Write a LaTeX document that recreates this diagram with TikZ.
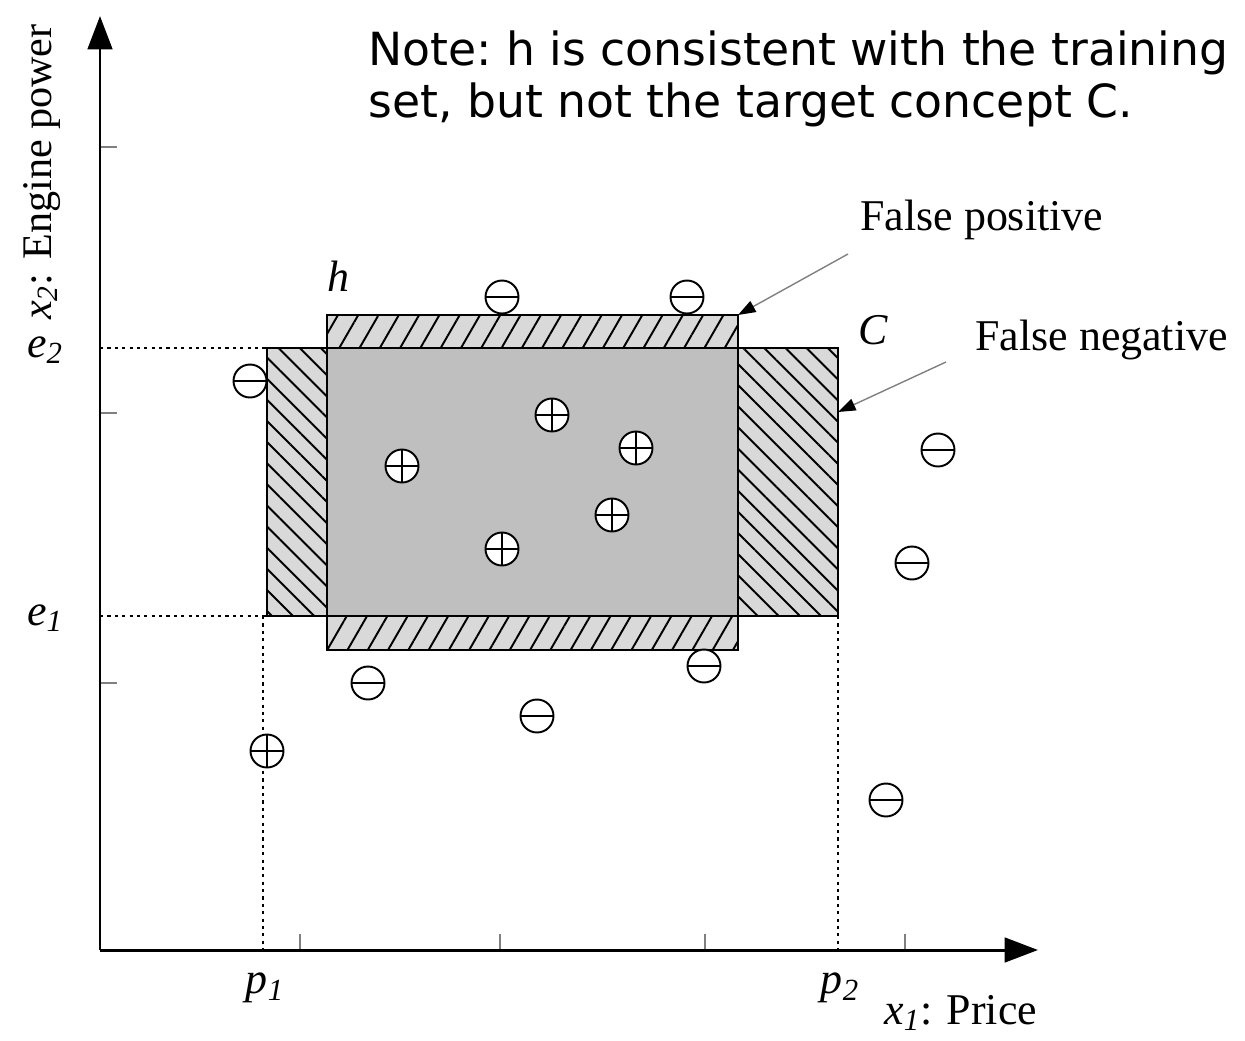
\documentclass[tikz,border=0pt]{standalone}
\usepackage{fontspec}
\setmainfont{Liberation Serif}
\newfontfamily\notefont{DejaVu Sans}
\usetikzlibrary{arrows.meta, patterns.meta, positioning}
\newcommand{\isub}[2]{\textit{#1}\textsubscript{\textit{#2}}}
\tikzset{
    axis/.style = {line width=1.7pt, -{Triangle[length=19pt, width=14pt]}},
    tickmark/.style = {gray, line width=0.6pt},
    guide/.style = {line width=1.6pt, dash pattern=on 1.8pt off 2.4pt},
    hstrip/.style = {fill=black!15, postaction={pattern={Lines[angle=60, distance=10pt, line width=1.1pt]}}},
    cstrip/.style = {fill=black!15, postaction={pattern={Lines[angle=-45, distance=8.5pt, line width=1.1pt]}}},
    core/.style = {fill=black!25},
    outline/.style = {draw=black, line width=1.1pt},
    lbl/.style = {font=\fontsize{25}{30}\selectfont, inner sep=0pt},
    callout/.style = {gray, line width=0.8pt, -{Triangle[length=10pt, width=7pt, color=black]}},
    plusmark/.style = {circle, draw, fill=white, line width=1.1pt, minimum size=0.66cm, inner sep=0pt,
        path picture={\draw[line width=1.1pt] (path picture bounding box.west) -- (path picture bounding box.east)
                      (path picture bounding box.north) -- (path picture bounding box.south);}},
    minusmark/.style = {circle, draw, fill=white, line width=1.1pt, minimum size=0.66cm, inner sep=0pt,
        path picture={\draw[line width=1.1pt] (path picture bounding box.west) -- (path picture bounding box.east);}}
}
\begin{document}
\begin{tikzpicture}[x=0.02cm, y=-0.02cm]
\useasboundingbox (0,0) rectangle (1245,1041);

% --- COORDINATES ---
\coordinate (origin) at (100,950);
\coordinate (hNE) at (738,315);
\coordinate (cE) at (838,412);
\coordinate (fpfoot) at (848,254);
\coordinate (fnfoot) at (946,362);

% --- REGIONS ---
\path[cstrip] (267,348) rectangle (327,616);
\path[cstrip] (738,348) rectangle (838,616);
\path[hstrip] (327,315) rectangle (738,348);
\path[hstrip] (327,616) rectangle (738,650);
\path[core] (327,348) rectangle (738,616);
\draw[outline] (267,348) rectangle (838,616);
\draw[outline] (327,315) rectangle (738,650);

% --- GUIDES ---
\draw[guide] (100,348) -- (267,348);
\draw[guide] (100,616) -- (267,616);
\draw[guide] (263,616) -- (263,950);
\draw[guide] (838,616) -- (838,950);

% --- AXES ---
\foreach \ty in {147,413,683} \draw[tickmark] (100,\ty) -- (117,\ty);
\foreach \tx in {300,500,705,905} \draw[tickmark] (\tx,950) -- (\tx,934);
\draw[axis] (origin) -- (100,16);
\draw[axis] (origin) -- (1038,950);

% --- AXIS LABELS ---
\node[lbl, rotate=90, font=\fontsize{24}{28}\selectfont] (ylab) at (42,172) {\isub{x}{2}: Engine power};
\node[lbl] (e2) at (45,350) {\isub{e}{2}};
\node[lbl] (e1) at (45,618) {\isub{e}{1}};
\node[lbl] (p1) at (265,988) {\isub{p}{1}};
\node[lbl] (p2) at (840,988) {\isub{p}{2}};
\node[lbl, anchor=west] (xlab) at (884,1013) {\isub{x}{1}: Price};

% --- SAMPLES ---
\foreach \px/\py [count=\i] in {552/415, 636/448, 402/466, 612/515, 502/549, 267/751}
    \node[plusmark] (plus\i) at (\px,\py) {};
\foreach \px/\py [count=\i] in {502/297, 687/297, 250/381, 938/450, 912/563, 368/683, 704/666, 537/716, 886/800}
    \node[minusmark] (minus\i) at (\px,\py) {};

% --- NAMES AND CALLOUTS ---
\node[lbl] (hname) at (338,276) {\textit{h}};
\node[lbl] (cname) at (873,330) {\textit{C}};
\node[lbl, anchor=west] (falsepos) at (860,220) {False positive};
\node[lbl, anchor=west] (falseneg) at (975,340) {False negative};
\draw[callout] (fpfoot) -- (hNE);
\draw[callout] (fnfoot) -- (cE);

% --- NOTE ---
\node[anchor=north west, align=left, inner sep=0pt, font=\notefont\fontsize{26}{30}\selectfont] (note) at (368,30)
    {Note:\ h is consistent with the training\\set, but not the target concept C.};

\end{tikzpicture}
\end{document}
